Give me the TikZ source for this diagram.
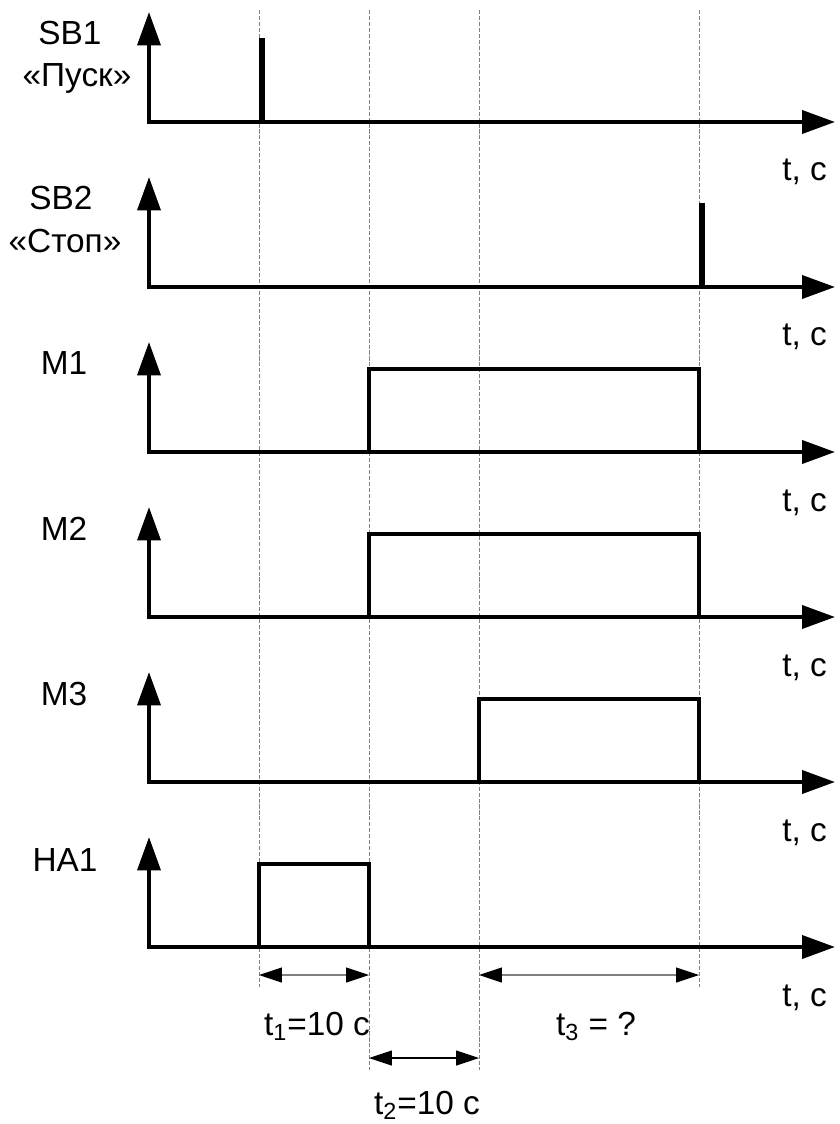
\documentclass[tikz,border=0pt]{standalone}
\usepackage{fontspec}
\setmainfont{Liberation Sans}
\usetikzlibrary{arrows.meta}

\begin{document}
\begin{tikzpicture}[x=0.02cm, y=-0.02cm,
    font=\fontsize{19}{22}\selectfont,
    axis/.style={line width=2.3pt, {Triangle[length=19pt, width=13pt]}-{Triangle[length=18.7pt, width=13pt]}},
    signal/.style={line width=2pt},
    button/.style={line width=3.4pt},
    guide/.style={gray, line width=0.5pt, dash pattern=on 2.3pt off 1.1pt},
    dim/.style={line width=0.6pt, {Triangle[length=13pt, width=8.5pt, color=black]}-{Triangle[length=13pt, width=8.5pt, color=black]}}]

    \useasboundingbox (0,0) rectangle (839,1124);

    % Time marks (dashed)
    \foreach \x/\yend/\nm in {259/987/a, 369/1070/b, 479/1070/c, 699/987/d} {
        \coordinate (top\nm) at (\x, 10);
        \coordinate (bot\nm) at (\x, \yend);
        \draw[guide] (top\nm) -- (bot\nm);
    }

    % Axes of every signal
    \foreach \y/\nm in {122/sbi, 287/sbii, 452/mi, 617/mii, 782/miii, 947/hai} {
        \coordinate (o\nm) at (149, \y);
        \draw[axis] (149, \y-110) -- (o\nm) -- (835, \y);
        \node[anchor=base east] (t\nm) at (833, \y+59) {t, c};
    }

    % Signal names
    \node[anchor=base] (lsbi) at (70, 45) {SB1};
    \node[anchor=base] (lpusk) at (77, 87) {«Пуск»};
    \node[anchor=base] (lsbii) at (61, 210) {SB2};
    \node[anchor=base] (lstop) at (65, 253) {«Стоп»};
    \node[anchor=base] (lmi) at (64, 375) {M1};
    \node[anchor=base] (lmii) at (64, 540) {M2};
    \node[anchor=base] (lmiii) at (64, 705) {M3};
    \node[anchor=base] (lhai) at (65, 871) {HA1};

    % Buttons: short pulses
    \draw[button] (262, 122) -- (262, 38);
    \draw[button] (702, 287) -- (702, 203);

    % Motors and horn
    \foreach \y/\a/\b in {452/369/699, 617/369/699, 782/479/699, 947/259/369} {
        \draw[signal] (\a, \y) |- (\b, \y-83) -- (\b, \y);
    }

    % Intervals
    \coordinate (ti1) at (259, 975);
    \coordinate (ti2) at (369, 975);
    \coordinate (tii1) at (369, 1058);
    \coordinate (tii2) at (479, 1058);
    \coordinate (tiii1) at (479, 975);
    \coordinate (tiii2) at (699, 975);
    \draw[dim, gray] (ti1) -- (ti2);
    \draw[dim] (tii1) -- (tii2);
    \draw[dim, gray] (tiii1) -- (tiii2);
    \node[anchor=base west] (lti) at (258, 1035) {t\textsubscript{1}=10 c};
    \node[anchor=base west] (ltii) at (368, 1114) {t\textsubscript{2}=10 c};
    \node[anchor=base] (ltiii) at (596, 1035) {t\textsubscript{3} = ?};
\end{tikzpicture}
\end{document}
